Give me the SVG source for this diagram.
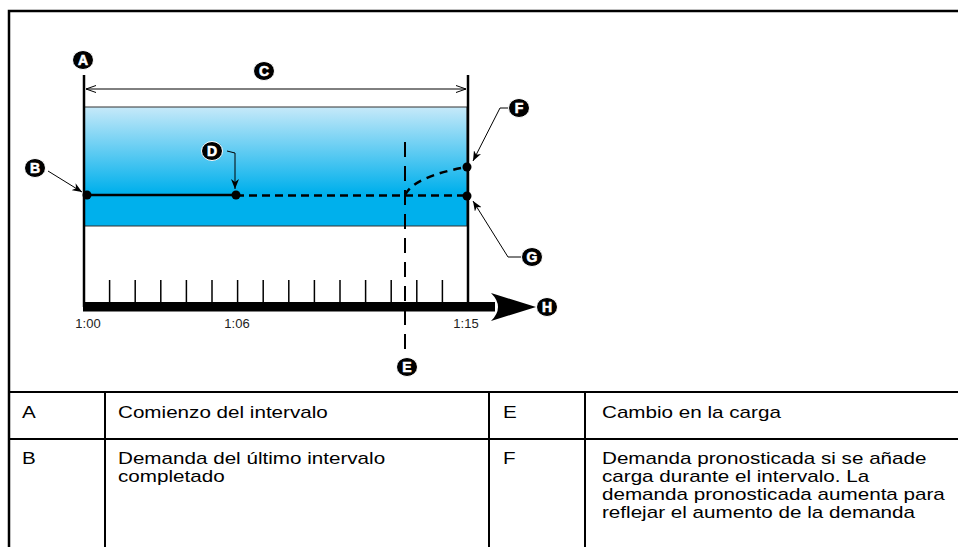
<svg xmlns="http://www.w3.org/2000/svg" width="958" height="547" viewBox="0 0 958 547">
<style>
.frame{stroke:#000;stroke-width:2.5;fill:none}
.tl{stroke:#000;stroke-width:2;fill:none}
.ln{stroke:#000;fill:none}
.lead{stroke:#000;stroke-width:1;fill:none}
.tick{stroke:#000;stroke-width:1.5}
.dot{fill:#000}
.badge ellipse{fill:#000;stroke:#fff;stroke-width:1}
.badge text{font-family:"Liberation Sans",Arial,sans-serif;font-weight:bold;font-size:14px;fill:#fff;stroke:#fff;stroke-width:0.6;text-anchor:middle}
.ax{font-family:"Liberation Sans",Arial,sans-serif;font-size:13px;fill:#222;text-anchor:middle}
.tx{font-family:"Liberation Sans",Arial,sans-serif;font-size:16px;fill:#000}
</style>
<defs>
<linearGradient id="blue" x1="0" y1="0" x2="0" y2="1">
<stop offset="0" stop-color="#c6e9f9"/>
<stop offset="0.72" stop-color="#00b0ec"/>
<stop offset="1" stop-color="#00b0ec"/>
</linearGradient>
<marker id="ah" viewBox="0 0 10 8" refX="10" refY="4" markerWidth="10" markerHeight="8" markerUnits="userSpaceOnUse" orient="auto">
<path d="M0,0 L10,4 L0,8 L3,4 Z" fill="#000"/>
</marker>
<marker id="ahs" viewBox="0 0 10 8" refX="10" refY="4" markerWidth="10" markerHeight="8" markerUnits="userSpaceOnUse" orient="auto-start-reverse">
<path d="M0,0.5 L10,4 L0,7.5" fill="none" stroke="#000" stroke-width="1"/>
</marker>
</defs>
<rect x="0" y="0" width="958" height="547" fill="#fff"/>

<!-- frame and table -->
<g id="frame">
<path class="frame" d="M9,547 V11 H958"/>
<line class="tl" x1="9" y1="392" x2="958" y2="392"/>
<line class="tl" x1="9" y1="439" x2="958" y2="439"/>
<line class="tl" x1="105" y1="392" x2="105" y2="547"/>
<line class="tl" x1="489" y1="392" x2="489" y2="547"/>
<line class="tl" x1="585" y1="392" x2="585" y2="547"/>
</g>
<g id="table-text">
<g transform="translate(22,418) scale(1.29,1)"><text class="tx">A</text></g>
<g transform="translate(118,418) scale(1.29,1)"><text class="tx">Comienzo del intervalo</text></g>
<g transform="translate(503,418) scale(1.29,1)"><text class="tx">E</text></g>
<g transform="translate(602,418) scale(1.29,1)"><text class="tx">Cambio en la carga</text></g>
<g transform="translate(22,464) scale(1.29,1)"><text class="tx">B</text></g>
<g transform="translate(118,464) scale(1.29,1)"><text class="tx"><tspan x="0" y="0">Demanda del último intervalo</tspan><tspan x="0" y="18">completado</tspan></text></g>
<g transform="translate(503,464) scale(1.29,1)"><text class="tx">F</text></g>
<g transform="translate(602,464) scale(1.29,1)"><text class="tx"><tspan x="0" y="0">Demanda pronosticada si se añade</tspan><tspan x="0" y="18">carga durante el intervalo. La</tspan><tspan x="0" y="36">demanda pronosticada aumenta para</tspan><tspan x="0" y="54">reflejar el aumento de la demanda</tspan></text></g>
</g>

<!-- interval box -->
<g id="interval-box">
<rect x="84" y="107" width="383" height="119" fill="url(#blue)" stroke="#333" stroke-width="1"/>
</g>

<g id="connectors">
<!-- interval bounds -->
<line class="ln" x1="84" y1="75" x2="84" y2="307" stroke-width="2.5"/>
<line class="ln" x1="468" y1="75" x2="468" y2="303" stroke-width="2.5"/>
<!-- C dimension -->
<line class="lead" x1="86" y1="89" x2="466" y2="89" marker-start="url(#ahs)" marker-end="url(#ahs)"/>
<!-- demand lines -->
<line class="ln" x1="86" y1="195" x2="236" y2="195" stroke-width="2.5"/>
<line class="ln" x1="236" y1="195.5" x2="467" y2="195.5" stroke-width="2.5" stroke-dasharray="8 5"/>
<path class="ln" d="M405,195 Q415,176 467,167" stroke-width="2.5" stroke-dasharray="8 6"/>
<!-- E dashed -->
<line class="ln" x1="405" y1="142" x2="405" y2="352" stroke-width="2" stroke-dasharray="15 9"/>
<!-- leaders -->
<path class="lead" d="M48,171 L82,192" marker-end="url(#ah)"/>
<path class="lead" d="M227,151 L235,153 L235,189" marker-end="url(#ah)"/>
<path class="lead" d="M509,108 L500,108 L473,161" marker-end="url(#ah)"/>
<path class="lead" d="M522,257 L508,257 L473,201" marker-end="url(#ah)"/>
<!-- time axis -->
<rect x="83" y="302" width="412" height="9.5" fill="#000"/>
<path d="M491,293 L536,307 L491,321 Q505,307 491,293 Z" fill="#000"/>
<g class="tick">
<line x1="109.6" y1="280" x2="109.6" y2="302"/>
<line x1="135.2" y1="280" x2="135.2" y2="302"/>
<line x1="160.8" y1="280" x2="160.8" y2="302"/>
<line x1="186.4" y1="280" x2="186.4" y2="302"/>
<line x1="212" y1="280" x2="212" y2="302"/>
<line x1="237.6" y1="280" x2="237.6" y2="302"/>
<line x1="263.2" y1="280" x2="263.2" y2="302"/>
<line x1="288.8" y1="280" x2="288.8" y2="302"/>
<line x1="314.4" y1="280" x2="314.4" y2="302"/>
<line x1="340" y1="280" x2="340" y2="302"/>
<line x1="365.6" y1="280" x2="365.6" y2="302"/>
<line x1="391.2" y1="280" x2="391.2" y2="302"/>
<line x1="416.8" y1="280" x2="416.8" y2="302"/>
<line x1="442.4" y1="280" x2="442.4" y2="302"/>
</g>
</g>

<g id="points">
<circle class="dot" cx="87" cy="195" r="4.5"/>
<circle class="dot" cx="236" cy="195" r="4.5"/>
<circle class="dot" cx="467" cy="167" r="4.5"/>
<circle class="dot" cx="467" cy="196" r="4.5"/>
</g>

<g id="axis-labels">
<text class="ax" x="88" y="328">1:00</text>
<text class="ax" x="237" y="328">1:06</text>
<text class="ax" x="466" y="328">1:15</text>
</g>

<g id="label-A" class="badge"><ellipse cx="83" cy="60" rx="10.5" ry="9.5"/><text x="83" y="65">A</text></g>
<g id="label-B" class="badge"><ellipse cx="35" cy="168" rx="10.5" ry="9.5"/><text x="35" y="173">B</text></g>
<g id="label-C" class="badge"><ellipse cx="264" cy="71" rx="10.5" ry="9.5"/><text x="264" y="76">C</text></g>
<g id="label-D" class="badge"><ellipse cx="212" cy="151" rx="10.5" ry="9.5"/><text x="212" y="156">D</text></g>
<g id="label-E" class="badge"><ellipse cx="407" cy="367" rx="10.5" ry="9.5"/><text x="407" y="372">E</text></g>
<g id="label-F" class="badge"><ellipse cx="519" cy="108" rx="10.5" ry="9.5"/><text x="519" y="113">F</text></g>
<g id="label-G" class="badge"><ellipse cx="532" cy="257" rx="10.5" ry="9.5"/><text x="532" y="262">G</text></g>
<g id="label-H" class="badge"><ellipse cx="547" cy="307" rx="10.5" ry="9.5"/><text x="547" y="312">H</text></g>
</svg>
